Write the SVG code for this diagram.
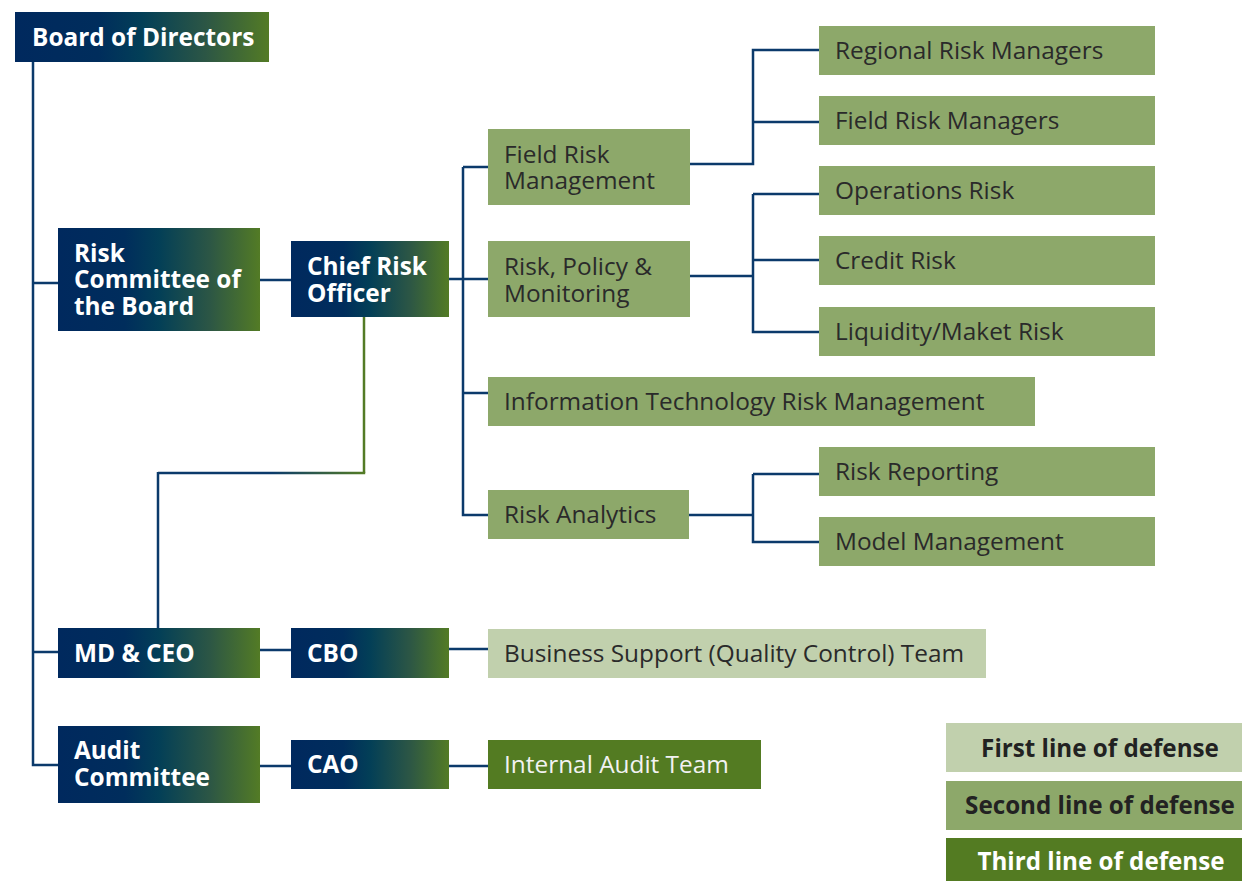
<svg xmlns="http://www.w3.org/2000/svg" width="1242" height="881" viewBox="0 0 1242 881">
<defs>
<linearGradient id="navyGreen" x1="0" y1="0" x2="1" y2="0">
<stop offset="0" stop-color="#00295E"/>
<stop offset="0.33" stop-color="#002D5C"/>
<stop offset="0.5" stop-color="#033F57"/>
<stop offset="0.75" stop-color="#2C5645"/>
<stop offset="1" stop-color="#537B25"/>
</linearGradient>
<linearGradient id="lineGrad" gradientUnits="userSpaceOnUse" x1="158" y1="0" x2="364" y2="0">
<stop offset="0" stop-color="#0B3A6B"/>
<stop offset="0.55" stop-color="#0B3A6B"/>
<stop offset="1" stop-color="#537B25"/>
</linearGradient>
</defs>
<style>
.lead{fill:url(#navyGreen)}
.l2{fill:#8DA86A}
.l1{fill:#C1D0AD}
.l3{fill:#537B22}
.tw{font-family:"Open Sans","Noto Sans","Liberation Sans",sans-serif;font-size:24.4px;font-weight:700;fill:#FFFFFF}
.td{font-family:"Open Sans","Noto Sans","Liberation Sans",sans-serif;font-size:24.4px;font-weight:400;fill:#2A2A2A}
.tl{font-family:"Open Sans","Noto Sans","Liberation Sans",sans-serif;font-size:24.4px;font-weight:400;fill:#F2F2F2}
.lg{font-family:"Open Sans","Noto Sans","Liberation Sans",sans-serif;font-size:24.2px;font-weight:700;fill:#222222;text-anchor:middle}
.conn{fill:none;stroke:#0B3A6B;stroke-width:2.5}
</style>
<rect width="1242" height="881" fill="#FFFFFF"/>
<g id="connectors">
<path class="conn" d="M33 62 V765 H58 M33 283 H58 M33 652 H58"/>
<path class="conn" d="M260 280 H291"/>
<path class="conn" d="M449 279 H488 M463 167 H488 M463 167 V515 H488 M463 393 H488"/>
<path class="conn" d="M690 164 H753 V50 H819 M753 122 H819"/>
<path class="conn" d="M690 276 H753 M753 194 V332 H819 M753 194 H819 M753 260 H819"/>
<path class="conn" d="M689 515 H753 M753 474 V542 H819 M753 474 H819"/>
<path fill="none" stroke="#537B25" stroke-width="2.5" d="M364 317 V473"/>
<path fill="none" stroke="url(#lineGrad)" stroke-width="2.5" d="M365.2 473 H158"/>
<path class="conn" d="M158 472 V628"/>
<path class="conn" d="M260 650 H291 M449 649 H488"/>
<path class="conn" d="M260 766 H291 M449 766 H488"/>
</g>
<g id="board"><rect class="lead" x="15" y="12" width="254" height="50"/><text class="tw" x="32" y="46">Board of Directors</text></g>
<g id="risk-committee"><rect class="lead" x="58" y="228" width="202" height="103"/><text class="tw" x="74" y="262">Risk</text><text class="tw" x="74" y="288">Committee of</text><text class="tw" x="74" y="315">the Board</text></g>
<g id="cro"><rect class="lead" x="291" y="241" width="158" height="76"/><text class="tw" x="307" y="275">Chief Risk</text><text class="tw" x="307" y="302">Officer</text></g>
<g id="md-ceo"><rect class="lead" x="58" y="628" width="202" height="50"/><text class="tw" x="74" y="662">MD &amp; CEO</text></g>
<g id="cbo"><rect class="lead" x="291" y="628" width="158" height="50"/><text class="tw" x="307" y="662">CBO</text></g>
<g id="audit-committee"><rect class="lead" x="58" y="726" width="202" height="77"/><text class="tw" x="74" y="759">Audit</text><text class="tw" x="74" y="786">Committee</text></g>
<g id="cao"><rect class="lead" x="291" y="740" width="158" height="49"/><text class="tw" x="307" y="773">CAO</text></g>
<g id="field-risk-mgmt"><rect class="l2" x="488" y="129" width="202" height="76"/><text class="td" x="504" y="163">Field Risk</text><text class="td" x="504" y="189">Management</text></g>
<g id="risk-policy"><rect class="l2" x="488" y="241" width="202" height="76"/><text class="td" x="504" y="275">Risk, Policy &amp;</text><text class="td" x="504" y="302">Monitoring</text></g>
<g id="it-risk"><rect class="l2" x="488" y="377" width="547" height="49"/><text class="td" x="504" y="410">Information Technology Risk Management</text></g>
<g id="risk-analytics"><rect class="l2" x="488" y="490" width="201" height="49"/><text class="td" x="504" y="523">Risk Analytics</text></g>
<g id="regional"><rect class="l2" x="819" y="26" width="336" height="49"/><text class="td" x="835" y="59">Regional Risk Managers</text></g>
<g id="field-managers"><rect class="l2" x="819" y="96" width="336" height="49"/><text class="td" x="835" y="129">Field Risk Managers</text></g>
<g id="operations"><rect class="l2" x="819" y="166" width="336" height="49"/><text class="td" x="835" y="199">Operations Risk</text></g>
<g id="credit"><rect class="l2" x="819" y="236" width="336" height="49"/><text class="td" x="835" y="269">Credit Risk</text></g>
<g id="liquidity"><rect class="l2" x="819" y="307" width="336" height="49"/><text class="td" x="835" y="340">Liquidity/Maket Risk</text></g>
<g id="reporting"><rect class="l2" x="819" y="447" width="336" height="49"/><text class="td" x="835" y="480">Risk Reporting</text></g>
<g id="model"><rect class="l2" x="819" y="517" width="336" height="49"/><text class="td" x="835" y="550">Model Management</text></g>
<g id="bsqc"><rect class="l1" x="488" y="629" width="498" height="49"/><text class="td" x="504" y="662">Business Support (Quality Control) Team</text></g>
<g id="internal-audit"><rect class="l3" x="488" y="740" width="273" height="49"/><text class="tl" x="504" y="773">Internal Audit Team</text></g>
<g id="legend">
<rect class="l1" x="946" y="723" width="296" height="49"/><text class="lg" x="1100" y="757">First line of defense</text>
<rect class="l2" x="946" y="781" width="296" height="49"/><text class="lg" x="1100" y="814">Second line of defense</text>
<rect class="l3" x="946" y="838" width="296" height="43"/><text class="lg" x="1101" y="870" style="fill:#FFFFFF">Third line of defense</text>
</g>
</svg>
